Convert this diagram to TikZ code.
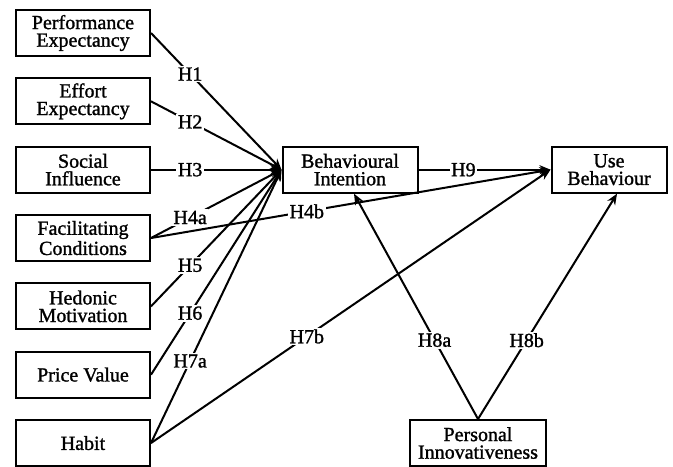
\documentclass[tikz,border=0pt]{standalone}
\usepackage{fontspec}
\setmainfont{Liberation Serif}
\newfontfamily\scanfont{Liberation Serif}[FakeBold=1.3]
\usetikzlibrary{positioning,arrows.meta}

\begin{document}
\begin{tikzpicture}[x=0.5pt,y=-0.5pt,node distance=34.17pt,on grid,line width=1pt,
  >={Stealth[length=5.5pt,width=4.5pt]},
  construct/.style={draw,minimum width=67pt,minimum height=23pt,inner sep=1pt,
    align=center,font=\scanfont\fontsize{10}{8.8}\selectfont},
  hyp/.style={fill=white,inner sep=0.8pt,pos=0.3,font=\scanfont\fontsize{10}{10}\selectfont}]
  \useasboundingbox (0,0) rectangle (673,466);

  \node[construct] (pe) at (83,33) {Performance\\Expectancy};
  \node[construct] (ee) [below=of pe] {Effort\\Expectancy};
  \node[construct] (si) [below=of ee] {Social\\Influence};
  \node[construct] (fc) [below=of si] {Facilitating\\Conditions};
  \node[construct] (hm) [below=of fc] {Hedonic\\Motivation};
  \node[construct] (pv) [below=of hm] {Price Value};
  \node[construct] (hb) [below=of pv] {Habit};
  \node[construct,minimum width=67.5pt] (bi) [right=133.5pt of si] {Behavioural\\Intention};
  \node[construct,minimum width=57.5pt] (ub) [right=129.5pt of bi] {Use\\Behaviour};
  \node[construct,minimum width=68pt] (pi) [right=197.5pt of hb] {Personal\\Innovativeness};

  \path[->]
  (pe.east) edge node[hyp] {H1} (bi.west)
  (ee.east) edge node[hyp] {H2} (bi.west)
  (si.east) edge node[hyp] {H3} (bi.west)
  (fc.east) edge node[hyp] {H4a} (bi.west)
            edge node[hyp,pos=0.39] {H4b} (ub.west)
  (hm.east) edge node[hyp] {H5} (bi.west)
  (pv.east) edge node[hyp] {H6} (bi.west)
  (hb.east) edge node[hyp] {H7a} (bi.west)
            edge node[hyp,pos=0.39] {H7b} (ub.west)

  (bi.east) edge node[hyp,pos=0.34] {H9} (ub.west)

  (pi.north) edge node[hyp,pos=0.35] {H8a} ([xshift=2pt]bi.south)
             edge node[hyp,pos=0.35] {H8b} ([xshift=4pt]ub.south);
\end{tikzpicture}
\end{document}
